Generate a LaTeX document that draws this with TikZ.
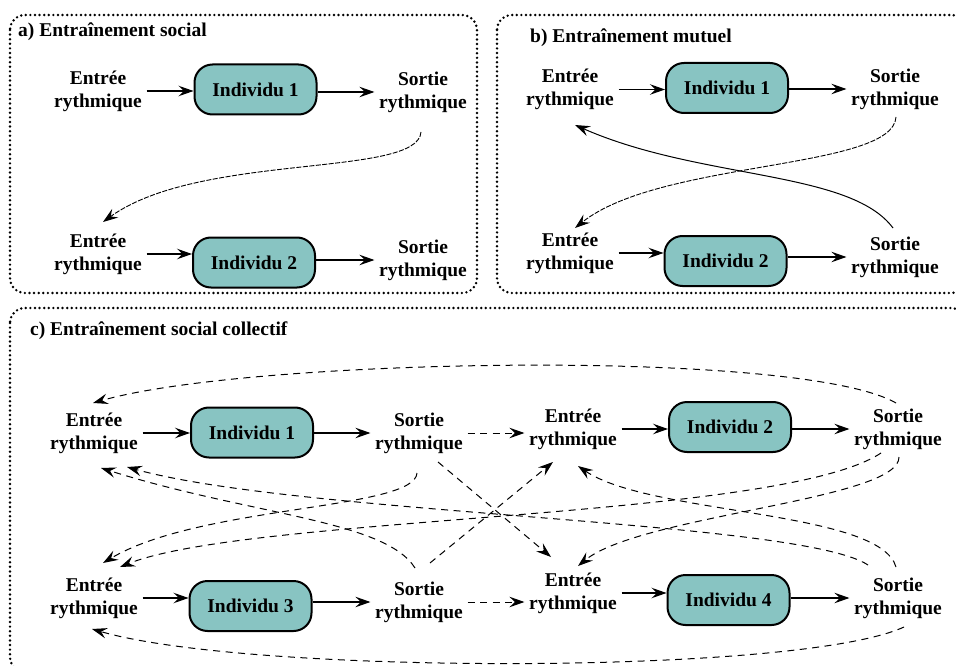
\documentclass[tikz,border=0pt]{standalone}
\usepackage{fontspec}
\setmainfont{Liberation Serif}
\usetikzlibrary{arrows.meta}
\definecolor{tealfill}{RGB}{136,196,194}
\begin{document}
\begin{tikzpicture}[x=1pt,y=-1pt,
  lbl/.style={font=\fontsize{19.5}{23}\selectfont\bfseries, align=center, inner sep=4.5pt},
  indiv/.style={draw, line width=2pt, fill=tealfill, rounded corners=18pt, minimum width=122pt, minimum height=50pt, inner sep=0pt, font=\fontsize{19.5}{23}\selectfont\bfseries},
  ttl/.style={font=\fontsize{19.5}{23}\selectfont\bfseries, anchor=base west, inner sep=0pt},
  panelframe/.style={line width=2.7pt, dash pattern=on 0pt off 4.6pt, line cap=round, rounded corners=15pt},
  arr/.style={-{Stealth[length=15pt,width=10.5pt,inset=5.5pt]}, line width=1.1pt},
  fdash/.style={arr, line width=0.9pt, dash pattern=on 5pt off 1.5pt},
  cdash/.style={arr, line width=1pt, dash pattern=on 7pt off 5.5pt},
]
\useasboundingbox (0,0) rectangle (956,666);
\fill[white] (0,0) rectangle (956,666);
\clip (0,0) rectangle (956,666);

% frames
\draw[panelframe] (10,15) rectangle (477,293);
\draw[panelframe] (497,15) rectangle (966,293);
\draw[panelframe] (10,308) rectangle (966,672);

% titles
\node[ttl] (ta) at (18,36.5) {a) Entraînement social};
\node[ttl] (tb) at (530,42.5) {b) Entraînement mutuel};
\node[ttl] (tc) at (30,335) {c) Entraînement social collectif};

% ---------- panel a ----------
\node[lbl] (Ea1) at (98,91) {Entrée\\rythmique};
\node[indiv] (Ia1) at (255.5,89.5) {Individu 1};
\node[lbl] (Sa1) at (423,92) {Sortie\\rythmique};
\node[lbl] (Ea2) at (98,254) {Entrée\\rythmique};
\node[indiv] (Ia2) at (254,262.5) {Individu 2};
\node[lbl] (Sa2) at (423,260) {Sortie\\rythmique};
\draw[arr] (Ea1.east) -- (Ea1.east -| Ia1.west);
\draw[arr] (Ia1.east |- Sa1.west) -- (Sa1.west);
\draw[arr] (Ea2.east) -- (Ea2.east -| Ia2.west);
\draw[arr] (Ia2.east |- Sa2.west) -- (Sa2.west);
\draw[fdash] ([shift={(-2,40)}]Sa1.center) .. controls +(-3,46) and +(97,-70) .. ([shift={(5,-32)}]Ea2.center);

% ---------- panel b ----------
\node[lbl] (Eb1) at (570,89.5) {Entrée\\rythmique};
\node[indiv] (Ib1) at (727,88) {Individu 1};
\node[lbl] (Sb1) at (895,89) {Sortie\\rythmique};
\node[lbl] (Eb2) at (570,253) {Entrée\\rythmique};
\node[indiv] (Ib2) at (725.5,261) {Individu 2};
\node[lbl] (Sb2) at (895,257) {Sortie\\rythmique};
\draw[arr] (Eb1.east) -- (Eb1.east -| Ib1.west);
\draw[arr] (Ib1.east |- Sb1.west) -- (Sb1.west);
\draw[arr] (Eb2.east) -- (Eb2.east -| Ib2.west);
\draw[arr] (Ib2.east |- Sb2.west) -- (Sb2.west);
\draw[fdash] ([shift={(1,28)}]Sb1.center) .. controls +(-3,53) and +(85,-68) .. ([shift={(5,-25)}]Eb2.center);
\draw[arr, line width=1pt] ([shift={(-2,-29)}]Sb2.center) .. controls +(-43,-58) and +(125,55) .. ([shift={(5,35.5)}]Eb1.center);

% ---------- panel c ----------
\node[lbl] (Ec1) at (94,433) {Entrée\\rythmique};
\node[indiv] (Ic1) at (252,432.5) {Individu 1};
\node[lbl] (Sc1) at (419,433) {Sortie\\rythmique};
\node[lbl] (Ec2) at (573,429) {Entrée\\rythmique};
\node[indiv] (Ic2) at (730,427) {Individu 2};
\node[lbl] (Sc2) at (898,429) {Sortie\\rythmique};
\node[lbl] (Ec3) at (94,598) {Entrée\\rythmique};
\node[indiv] (Ic3) at (250.5,606) {Individu 3};
\node[lbl] (Sc3) at (419,602) {Sortie\\rythmique};
\node[lbl] (Ec4) at (573,593) {Entrée\\rythmique};
\node[indiv] (Ic4) at (728.5,600) {Individu 4};
\node[lbl] (Sc4) at (898,598) {Sortie\\rythmique};

\draw[arr] (Ec1.east) -- (Ec1.east -| Ic1.west);
\draw[arr] (Ic1.east |- Sc1.west) -- (Sc1.west);
\draw[arr] (Ec2.east) -- (Ec2.east -| Ic2.west);
\draw[arr] (Ic2.east |- Sc2.west) -- (Sc2.west);
\draw[arr] (Ec3.east) -- (Ec3.east -| Ic3.west);
\draw[arr] (Ic3.east |- Sc3.west) -- (Sc3.west);
\draw[arr] (Ec4.east) -- (Ec4.east -| Ic4.west);
\draw[arr] (Ic4.east |- Sc4.west) -- (Sc4.west);

% straight dashed
\draw[cdash] (Sc1.east) -- (Sc1.east -| Ec2.west);
\draw[cdash] (Sc3.east) -- (Sc3.east -| Ec4.west);
\draw[cdash] ([shift={(19,29)}]Sc1.center) -- ([shift={(-22,-36)}]Ec4.center);
\draw[cdash] ([shift={(11,-39)}]Sc3.center) -- ([shift={(-20,33)}]Ec2.center);
% curved dashed
\draw[cdash] ([shift={(-2,40)}]Sc1.center) .. controls +(-2,37) and +(97,-58) .. ([shift={(9,-35)}]Ec3.center);
\draw[cdash] ([shift={(-2,-26)}]Sc2.center) .. controls +(-96,-55) and +(157,-45) .. ([shift={(-1,-30)}]Ec1.center);
\draw[cdash] ([shift={(6,29)}]Sc4.center) .. controls +(-104,48) and +(158,46) .. ([shift={(-2,31)}]Ec3.center);
\draw[cdash] ([shift={(1,28)}]Sc2.center) .. controls +(1,43) and +(62,-51) .. ([shift={(5,-27)}]Ec4.center);
\draw[cdash] ([shift={(-17,24)}]Sc2.center) .. controls +(-101,67) and +(130,-52) .. ([shift={(26,-31)}]Ec3.center);
\draw[cdash] ([shift={(-2,-31)}]Sc4.center) .. controls +(-16,-57) and +(72,49) .. ([shift={(5,37)}]Ec2.center);
\draw[cdash] ([shift={(-30,-33)}]Sc4.center) .. controls +(-68,-45) and +(173,48) .. ([shift={(33,34)}]Ec1.center);
\draw[cdash] ([shift={(-4,-34)}]Sc3.center) .. controls +(-30,-48) and +(149,47) .. ([shift={(7,35)}]Ec1.center);
\end{tikzpicture}
\end{document}
